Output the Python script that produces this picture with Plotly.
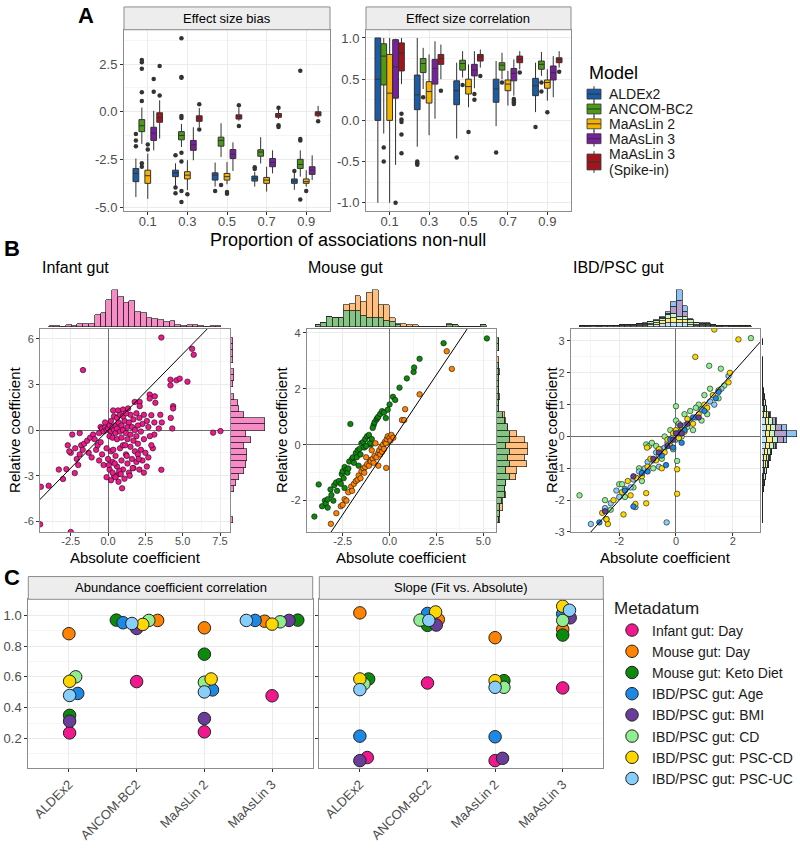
import numpy as np
import plotly.graph_objects as go

W, H = 800, 850
FONT = "Liberation Sans"
GRID = "#EBEBEB"
MINOR = "#F5F5F5"
BORDER = "#8C8C8C"
TICKC = "#4D4D4D"


def px(x):
    return x / W


def py(y):
    return 1 - y / H


# ---------------- panel A: boxplot summaries (model x proportion)
props = ["0.1", "0.3", "0.5", "0.7", "0.9"]
models = ["ALDEx2", "ANCOM-BC2", "MaAsLin 2", "MaAsLin 3", "MaAsLin 3 (Spike-in)"]
model_colors = ["#1C5BA6", "#4C9A16", "#F5B300", "#7A1FA0", "#A0161C"]

bias_q1 = [[-3.66, -3.40, -3.58, -3.63, -3.75],
           [-1.04, -1.47, -1.80, -2.33, -2.97],
           [-3.75, -3.52, -3.58, -3.75, -3.75],
           [-1.50, -2.02, -2.45, -2.88, -3.28],
           [-0.55, -0.50, -0.38, -0.29, -0.21]]
bias_med = [[-3.23, -3.20, -3.32, -3.49, -3.63],
            [-0.73, -1.24, -1.50, -2.11, -2.76],
            [-3.35, -3.32, -3.40, -3.58, -3.66],
            [-1.12, -1.73, -2.22, -2.66, -3.06],
            [-0.30, -0.33, -0.26, -0.21, -0.09]]
bias_q3 = [[-2.97, -3.06, -3.20, -3.37, -3.52],
           [-0.41, -1.04, -1.33, -1.99, -2.49],
           [-3.06, -3.14, -3.23, -3.44, -3.52],
           [-0.81, -1.50, -1.98, -2.45, -2.88],
           [-0.05, -0.21, -0.16, -0.09, 0.00]]
bias_lo = [[-4.47, -3.90, -3.92, -3.92, -4.09],
           [-1.68, -1.85, -2.37, -2.71, -3.40],
           [-4.56, -4.10, -3.80, -4.18, -3.92],
           [-2.02, -2.54, -3.10, -3.23, -3.58],
           [-1.40, -0.80, -0.47, -0.38, -0.29]]
bias_hi = [[-2.45, -2.70, -2.66, -3.15, -3.20],
           [0.22, -0.64, -0.60, -1.33, -2.02],
           [-2.19, -2.54, -2.63, -2.88, -3.06],
           [0.05, -0.81, -1.60, -2.02, -2.28],
           [0.60, 0.20, 0.22, 0.15, 0.31]]
bias_out = [[[-1.17, -1.5, -1.8], [-2.28, -3.97, -4.27], [-4.15], [-2.9, -3.0], [-3.1]],
            [[0.57, 1.03, 2.26, 2.6, 2.72, -2.7, -2.88],
             [3.85, 1.82, 1.78, -0.22, -0.33, -2.14, -2.6, -4.15, -4.73],
             [-3.84], [], [2.15, -1.43, -1.5, -4.6]],
            [[-1.71, -1.97], [-4.32], [-4.2, -4.3], [], [-4.15]],
            [[1.72, 1.05], [], [], [], []],
            [[0.85, 2.4], [0.4, -0.93], [0.34, -0.75], [0.21, -0.7, -0.8], [-0.5]]]

corr_q1 = [[0.00, 0.13, 0.19, 0.22, 0.30],
           [0.43, 0.58, 0.61, 0.61, 0.62],
           [0.00, 0.21, 0.32, 0.36, 0.39],
           [0.27, 0.44, 0.54, 0.48, 0.49],
           [0.60, 0.68, 0.72, 0.70, 0.70]]
corr_med = [[0.50, 0.31, 0.36, 0.38, 0.42],
            [0.78, 0.69, 0.69, 0.67, 0.68],
            [0.33, 0.35, 0.41, 0.44, 0.46],
            [0.65, 0.63, 0.61, 0.57, 0.58],
            [0.82, 0.75, 0.77, 0.74, 0.74]]
corr_q3 = [[1.00, 0.55, 0.48, 0.50, 0.51],
           [0.93, 0.75, 0.73, 0.70, 0.72],
           [0.80, 0.47, 0.50, 0.49, 0.49],
           [0.98, 0.74, 0.68, 0.63, 0.66],
           [0.94, 0.80, 0.80, 0.78, 0.76]]
corr_lo = [[-1.00, -0.32, -0.22, -0.07, 0.10],
           [-0.16, 0.38, 0.52, 0.50, 0.54],
           [-1.00, -0.18, 0.16, 0.18, 0.24],
           [-0.54, 0.02, 0.39, 0.30, 0.28],
           [0.44, 0.50, 0.64, 0.62, 0.64]]
corr_hi = [[1.00, 1.00, 0.70, 0.72, 0.70],
           [1.00, 0.88, 0.84, 0.82, 0.83],
           [1.00, 0.80, 0.68, 0.60, 0.62],
           [0.99, 0.96, 0.84, 0.74, 0.78],
           [1.00, 0.92, 0.86, 0.84, 0.84]]
corr_out = [[[], [-0.5, -0.52, -0.54], [-0.45], [-0.39], [-0.08]],
            [[-0.33, -0.5], [0.28], [0.43], [0.46], [0.46, 0.35]],
            [[], [], [-0.14], [], [0.10]],
            [[-1.0], [], [0.32, 0.25], [0.26, 0.24, 0.22, 0.20], []],
            [[0.08, 0.01, -0.02, -0.17, -0.4], [0.36], [0.54], [0.58], [0.59]]]

# ---------------- panel B: scatter points
inf_x = [3.57, 5.63, 5.74, -1.68, 4.18, 4.18, 4.58, 4.8, 5.32, 2.79, 3.13, 2.79, 3.17, 2.12, 1.79, 2.12,
         4.36, 4.36, 0.34, 0.67, 1.0, 1.34, 1.5, 1.9, 2.4, 2.9, 3.5, 4.2, 3.6, 4.3, 7.04, 7.53, 2.6, 3.1,
         2.3, 2.7, 3.4, 3.1, 2.8,
         -1.8, -1.6, -1.4, -1.2, -1.0, -0.9, -0.6, -0.5, -0.4, -0.3, -0.2, -0.1, 0.0, 0.1, 0.2, 0.3, 0.4,
         0.5, 0.5, 0.6, 0.7, 0.8, 0.9, 1.0, 1.1, 1.2, 1.3, 1.4, 1.5, 1.6, 1.7, 1.8, 1.9, 2.0, 2.1, 2.2,
         0.2, 0.4, 0.6, 0.8, 1.0, 1.2, -0.2, 0.1, 0.3, 0.6, 0.9, 1.3, 1.7, 2.4, 2.0,
         -2.2, -2.5, -2.1, -2.7, -2.6, -2.4, -1.9, -1.3, -1.1, -0.8, -0.6, -0.4, -0.3, -0.1, 0.0, 0.1,
         0.2, 0.3, 0.4, 0.5, 0.6, 0.7, 0.8, 0.9, 1.0, 1.1, 1.2, 1.3, 1.4, 1.5, 1.6, 1.7, 1.8, 1.9, 2.0,
         2.1, 2.2, 2.3, 2.5, 2.6, 2.7, 2.4, -0.1, 0.2, 0.5, 0.3, 0.7, 0.94, 3.57, 3.0, 2.9, -0.7, -0.5,
         1.0, 0.45, 0.75, 1.15, 1.45, 0.05, 0.35, 0.85, 1.25, 1.65, 2.05,
         -4.5, -3.98, -2.79, -3.02, -2.23, -1.9, -2.0, -1.7, -3.3, -4.55, -2.5]
inf_y = [6.08, 5.34, 4.95, 3.94, 3.31, 2.94, 3.27, 3.38, 3.18, 2.33, 2.22, 2.07, 1.79, 1.85, 1.85, 1.57,
         1.57, 1.42, 1.29, 1.29, 1.35, 1.42, 1.0, 1.1, 1.0, 0.98, 1.0, 0.8, 0.5, 0.1, -0.17, -0.07, 0.6, 0.5,
         0.4, 0.2, 0.1, -0.3, -0.4,
         -1.0, -0.9, -0.7, -0.5, -0.3, -0.6, -0.2, 0.2, 0.1, -0.1, 0.2, 0.0, 0.1, 0.3, -0.1, 0.2, 0.0,
         0.3, -0.2, 0.1, 0.5, -0.1, 0.3, 0.0, 0.6, -0.2, 0.2, 0.5, -0.3, 0.2, 0.7, 0.0, -0.4, 0.3, 0.8, -0.1,
         0.6, 0.9, 0.8, 1.0, 0.9, 1.1, 0.5, -0.4, -0.5, -0.6, -0.5, -0.6, -0.7, -0.6, -0.9,
         -1.2, -1.5, -1.9, -1.0, -1.4, -0.3, -0.2, -1.5, -1.8, -1.3, -2.0, -1.6, -2.3, -1.2, -1.9, -2.6,
         -1.4, -2.1, -3.0, -1.7, -2.4, -2.9, -1.2, -2.0, -2.6, -3.2, -1.6, -2.2, -2.8, -1.1, -1.9, -2.5,
         -1.4, -2.1, -1.6, -2.6, -1.3, -2.0, -1.5, -2.4, -1.8, -2.8, -3.1, -3.3, -3.1, -2.8, -3.4, -3.83,
         -2.61, -1.2, -1.0, -1.0, -0.8, -1.0,
         -2.2, -2.7, -1.0, -3.0, -2.3, -1.3, -2.9, -1.7, -2.5, -1.9,
         -3.73, -3.66, -2.57, -3.22, -2.83, -1.6, -2.3, -1.3, -2.6, -6.2, -6.7]

keto_x = [-4.01, -3.78, -3.6, -3.45, -3.4, -3.3, -3.15, -3.1, -3.3, -2.95, -2.85, -2.8, -2.7, -2.55, -2.5,
          -2.45, -2.4, -2.3, -2.25, -2.2, -2.15, -2.09, -2.0, -1.95, -1.9, -1.8, -1.75, -1.7, -1.6, -1.55,
          -1.5, -1.4, -1.35, -1.3, -1.2, -1.1, -1.0, -0.95, -0.85, -0.8, -0.7, -0.65, -0.6, -0.5, -0.4,
          -0.3, -0.2, 0.0, 0.18, 0.3, 0.53, 0.92, 1.28, 1.31, 1.6, 2.88, 5.19, -0.9, -1.05, -1.25, -2.6,
          -3.0, -2.4, -1.65, -0.1]
keto_y = [-2.57, -1.42, -2.2, -2.0, -2.1, -1.95, -1.6, -1.8, -2.25, -1.45, -1.35, -1.65, -1.3, -1.05, -0.95,
          -1.2, -0.8, -0.9, -1.0, -0.85, -0.6, 0.74, -0.5, -0.45, -0.65, -0.3, -0.45, -0.2, -0.15, -0.35,
          0.05, 0.1, -0.1, 0.2, 0.3, 0.35, 0.0, 0.2, 0.7, 0.8, 0.9, 0.95, 1.0, 1.1, 1.2,
          1.15, 0.95, 1.44, 1.71, 1.6, 2.04, 2.37, 2.6, 2.76, 3.07, 3.63, 3.8, 0.6, 0.05, -0.05, -1.4,
          -2.0, -1.55, -0.75, 1.25]
day_x = [-3.13, -2.84, -2.6, -2.5, -2.4, -2.3, -2.2, -2.05, -2.0, -1.9, -1.8, -1.7, -1.65, -1.55, -1.5,
         -1.4, -1.35, -1.3, -1.2, -1.1, -1.05, -1.0, -0.9, -0.85, -0.8, -0.7, -0.6, -0.55, -0.5, -0.45,
         -0.4, -0.35, -0.3, -0.25, -0.2, -0.15, -0.1, 0.0, 0.05, 0.1, 0.2, -0.18, 0.66, 0.78, 0.83, 1.6,
         3.05, 3.32, -0.6, -0.95, -0.75, -1.25]
day_y = [-2.83, -2.45, -2.2, -2.15, -1.95, -2.0, -1.7, -1.5, -1.65, -1.4, -1.3, -1.25, -1.1, -1.2, -0.95,
         -0.85, -1.0, -0.8, -0.7, -0.75, -0.55, -0.6, -0.5, -0.65, -0.4, -0.45, -0.3, -0.2, -0.35, -0.1,
         -0.25, 0.0, -0.15, 0.1, 0.05, 0.2, 0.3, 0.25, 0.15, 0.35, 0.25, -0.83, 0.88, 0.88, 1.27, 1.8,
         3.34, 2.71, -0.75, -0.2, 0.05, -0.45]

ibd_cd_x = [-3.4, -2.45, -2.5, -2.3, -2.0, -1.9, -1.8, -1.5, -1.3, -1.2, -1.05, -0.95, -0.85, -0.8, -0.7,
            -0.5, -0.4, -0.2, 0.0, 0.0, 0.1, 0.2, 0.3, 0.4, 0.5, 0.6, 0.8, 0.9, 1.0, 1.1, 1.2, 1.17, 1.58,
            2.64, 0.04, 1.5, 1.7, -0.1, 0.7]
ibd_cd_y = [-1.85, -2.6, -2.0, -2.3, -1.5, -1.5, -1.9, -1.6, -1.0, -1.4, -0.25, -0.3, -0.2, -1.0, -0.3,
            -0.7, 0.0, 0.2, 0.5, 0.95, 0.4, 0.0, 0.7, 0.3, 0.8, 0.2, 1.0, 0.5, 1.3, 0.7, 1.5, 2.22, 2.13,
            3.09, -0.77, 1.2, 1.6, -0.4, 0.9]
ibd_pscd_x = [-2.4, -2.45, -2.6, -2.2, -1.9, -1.7, -1.6, -1.4, -1.2, -1.0, -0.9, -0.7, -0.6, -0.4, -0.3,
              -0.2, -0.1, 0.0, 0.1, 0.2, 0.3, 0.4, 0.6, 0.8, 1.0, 1.1, 1.3, 1.5, 1.85, 1.9, 2.2, 1.35,
              0.68, 0.04, 0.04, -1.43, -1.05, -1.05, -1.02, -0.5, -1.85]
ibd_pscd_y = [-2.75, -2.6, -2.4, -2.0, -1.75, -1.4, -1.85, -1.3, -1.25, -0.95, -0.7, -0.75, -0.4, -0.5,
              -0.1, -0.3, 0.1, 0.2, -0.05, 0.3, 0.15, 0.55, 0.4, 0.7, 1.0, 0.9, 1.3, 1.45, 1.7, 2.0, 3.05,
              3.36, 2.5, -1.8, -1.03, -2.12, -2.1, -1.78, -0.35, -1.0, -2.45]
ibd_pscuc_x = [-3.0, -2.5, -2.3, -2.0, -1.8, -1.6, -1.5, -1.3, -1.1, -1.0, -0.8, -0.7, -0.6, -0.5, -0.4,
               -0.3, -0.2, -0.1, 0.0, 0.1, 0.2, 0.3, 0.5, 0.7, 0.9, 1.2, 1.35, 1.6, 1.85, -0.33, -1.43,
               -0.6, -2.1]
ibd_pscuc_y = [-2.75, -2.25, -2.1, -1.9, -1.65, -1.6, -1.35, -1.1, -1.0, -0.8, -0.75, -0.5, -0.6, -0.4,
               -0.35, -0.2, -0.15, 0.0, -0.1, 0.15, 0.1, 0.35, 0.45, 0.6, 0.85, 1.1, 1.0, 1.5, 1.9, -2.7,
               -2.22, -0.95, -1.7]
ibd_age_x = [-2.7, -1.5, -0.35, -1.0, -0.5, -0.2, 0.1, 0.3, 0.6, 1.0, 1.4, 1.5, -1.8, 0.2, -0.1, -1.2]
ibd_age_y = [-2.7, -2.2, -0.9, -1.1, -0.6, -0.1, 0.1, 0.2, 0.6, 0.8, 1.2, 1.4, -1.7, -0.2, -0.35, -1.15]
ibd_bmi_x = [-2.5, -1.5, -0.6, -0.3, -0.1, 0.0, 0.2, 0.4, 0.8, -0.8, 0.15]
ibd_bmi_y = [-2.35, -1.25, -0.5, -0.3, -0.1, 0.1, 0.1, 0.4, 0.6, -0.7, 0.35]

identity = [-10, 10]

# marginal histogram counts (30 bins each)
inf_top_start, inf_top_w = -3.98, 0.386
inf_top = [1, 1, 0, 2, 1, 3, 3, 3, 12, 14, 27, 37, 30, 24, 26, 15, 14, 9, 8, 7, 5, 6, 2, 1, 2, 2, 1, 0, 1, 1]
inf_rt_start, inf_rt_w = -6.1, 0.405
inf_rt = [1, 0, 0, 0, 0, 2, 3, 5, 8, 9, 10, 10, 8, 12, 9, 21, 21, 8, 5, 4, 2, 0, 1, 2, 2, 0, 1, 1, 1, 1]

mou_top_start, mou_top_w = -3.96, 0.305
mou_top_keto = [1, 3, 8, 7, 7, 13, 13, 13, 9, 7, 7, 7, 5, 4, 1, 0, 0, 0, 0, 0, 0, 0, 0, 1, 1, 0, 0, 0, 0, 1]
mou_top_day = [0, 0, 0, 0, 0, 5, 6, 12, 11, 21, 23, 11, 13, 3, 1, 2, 1, 1, 0, 0, 0, 0, 0, 1, 0, 0, 0, 0, 0, 0]
mou_rt_start, mou_rt_w = -2.79, 0.22
mou_rt_keto = [1, 2, 2, 3, 5, 5, 6, 8, 6, 8, 7, 8, 6, 8, 8, 7, 5, 4, 1, 1, 1, 1, 1, 1, 1, 1, 0, 0, 1, 1]
mou_rt_day = [1, 0, 2, 1, 1, 0, 0, 4, 7, 11, 11, 12, 14, 10, 5, 0, 1, 1, 0, 0, 1, 0, 0, 0, 1, 0, 1, 0, 0, 0]

ibd_top_start, ibd_top_w = -3.41, 0.202
ibd_top_age = [0, 0, 0, 0, 0, 0, 0, 0, 0, 0, 0, 1, 1, 2, 3, 5, 15, 35, 20, 3, 1, 1, 1, 0, 0, 0, 0, 0, 0, 0]
ibd_top_bmi = [0, 0, 0, 0, 0, 0, 0, 0, 0, 0, 1, 1, 1, 2, 3, 5, 20, 47, 15, 3, 1, 0, 0, 0, 0, 0, 0, 0, 0, 0]
ibd_top_cd = [1, 0, 0, 1, 1, 1, 1, 2, 2, 2, 3, 3, 5, 6, 8, 12, 14, 11, 10, 7, 4, 3, 3, 2, 1, 1, 0, 1, 0, 1]
ibd_top_pscd = [0, 1, 0, 1, 0, 1, 1, 2, 2, 2, 2, 3, 4, 5, 8, 12, 14, 10, 10, 6, 3, 3, 3, 2, 1, 0, 1, 0, 1, 0]
ibd_top_pscuc = [0, 0, 1, 0, 1, 1, 1, 1, 1, 2, 2, 2, 4, 5, 8, 11, 12, 10, 10, 6, 3, 3, 3, 1, 0, 1, 0, 0, 0, 0]
ibd_rt_start, ibd_rt_w = -2.71, 0.193
ibd_rt_age = [0, 0, 0, 0, 0, 0, 0, 0, 1, 1, 2, 2, 4, 10, 33, 15, 5, 2, 1, 0, 0, 0, 0, 0, 0, 0, 0, 0, 0, 0]
ibd_rt_bmi = [0, 0, 0, 0, 0, 0, 0, 1, 1, 2, 2, 3, 6, 17, 37, 20, 7, 3, 1, 1, 0, 0, 0, 0, 0, 0, 0, 0, 0, 0]
ibd_rt_cd = [1, 1, 1, 1, 2, 2, 3, 4, 5, 7, 8, 9, 13, 17, 14, 14, 12, 8, 5, 4, 3, 2, 1, 1, 1, 1, 1, 0, 1, 1]
ibd_rt_pscd = [1, 0, 1, 1, 1, 2, 3, 4, 5, 6, 8, 9, 12, 17, 13, 14, 12, 7, 5, 4, 3, 2, 2, 1, 1, 0, 1, 1, 0, 1]
ibd_rt_pscuc = [0, 1, 1, 1, 1, 1, 2, 3, 5, 6, 7, 9, 12, 16, 13, 14, 11, 7, 5, 3, 2, 1, 1, 1, 1, 1, 0, 0, 0, 0]

# ---------------- panel C
c_models = ["ALDEx2", "ANCOM-BC2", "MaAsLin 2", "MaAsLin 3"]
meta = ["Infant gut: Day", "Mouse gut: Day", "Mouse gut: Keto Diet", "IBD/PSC gut: Age",
        "IBD/PSC gut: BMI", "IBD/PSC gut: CD", "IBD/PSC gut: PSC-CD", "IBD/PSC gut: PSC-UC"]
meta_colors = ["#F0188C", "#FF8200", "#0B8A0B", "#1E88E5", "#6A3D9A", "#90EE90", "#FFD700", "#87CEFA"]

corr_vals = [[0.236, 0.569, 0.243, 0.477],
             [0.880, 0.966, 0.918, 0.961],
             [0.350, 0.968, 0.747, 0.968],
             [0.492, 0.951, 0.515, 0.966],
             [0.312, 0.914, 0.329, 0.966],
             [0.600, 0.966, 0.565, 0.957],
             [0.571, 0.940, 0.586, 0.942],
             [0.479, 0.946, 0.502, 0.966]]
corr_dodge = [[0.01, 0.0, 0.0, 0.0],
              [0.0, 0.31, 0.0, -0.11],
              [0.01, -0.30, 0.0, 0.38],
              [0.13, -0.20, 0.12, -0.25],
              [0.01, 0.0, 0.0, 0.25],
              [0.10, 0.18, 0.0, 0.12],
              [0.01, 0.09, 0.10, 0.0],
              [0.01, -0.07, 0.0, -0.38]]
slope_vals = [[0.076, 0.560, 0.056, 0.528],
              [1.015, 0.972, 0.854, 0.908],
              [0.586, 0.934, 0.575, 0.871],
              [0.215, 1.011, 0.211, 1.009],
              [0.056, 0.936, 0.071, 0.983],
              [0.554, 0.968, 0.532, 0.966],
              [0.586, 1.021, 0.575, 1.058],
              [0.517, 0.966, 0.532, 1.032]]
slope_dodge = [[0.11, 0.0, 0.0, 0.0],
               [0.0, 0.16, 0.0, 0.0],
               [0.13, 0.0, 0.13, 0.0],
               [0.0, 0.0, 0.0, 0.0],
               [0.0, 0.13, 0.11, 0.11],
               [0.06, -0.11, 0.13, 0.0],
               [0.0, 0.12, 0.0, 0.0],
               [0.0, 0.02, 0.0, 0.10]]


def rgba(hexc, a):
    h = hexc.lstrip("#")
    return "rgba(%d,%d,%d,%.2f)" % (int(h[0:2], 16), int(h[2:4], 16), int(h[4:6], 16), a)


def centers(start, w, n):
    return start + w * (np.arange(n) + 0.5)


fig = go.Figure()

# ---- A
dodge = [-0.3, -0.15, 0.0, 0.15, 0.3]
for m in range(5):
    pos = [i + dodge[m] for i in range(5)]
    fig.add_trace(go.Box(x=pos, q1=bias_q1[m], median=bias_med[m], q3=bias_q3[m],
                         lowerfence=bias_lo[m], upperfence=bias_hi[m], orientation="v",
                         width=0.145, whiskerwidth=0, boxpoints=False, fillcolor=model_colors[m],
                         line=dict(color="#333333", width=1), name=models[m], showlegend=False,
                         xaxis="x", yaxis="y", hoverinfo="skip"))
    fig.add_trace(go.Box(x=pos, q1=corr_q1[m], median=corr_med[m], q3=corr_q3[m],
                         lowerfence=corr_lo[m], upperfence=corr_hi[m], orientation="v",
                         width=0.145, whiskerwidth=0, boxpoints=False, fillcolor=model_colors[m],
                         line=dict(color="#333333", width=1), name=models[m], showlegend=False,
                         xaxis="x2", yaxis="y2", hoverinfo="skip"))
    for outs, ax, ay in [(bias_out, "x", "y"), (corr_out, "x2", "y2")]:
        ox, oy = [], []
        for i in range(5):
            for v in outs[m][i]:
                ox.append(pos[i])
                oy.append(v)
        fig.add_trace(go.Scatter(x=ox, y=oy, mode="markers", marker=dict(color="#333333", size=4.5),
                                 showlegend=False, xaxis=ax, yaxis=ay, hoverinfo="skip"))

# ---- B
def pts(x, y, col, ax, ay):
    fig.add_trace(go.Scatter(x=x, y=y, mode="markers", showlegend=False, xaxis=ax, yaxis=ay,
                             marker=dict(color=col, size=5.5, line=dict(color="#111111", width=0.6)),
                             hoverinfo="skip"))


def hist(start, w, counts, col, ax, ay, horiz=False):
    c = centers(start, w, len(counts))
    mk = dict(color=rgba(col, 0.5), line=dict(color="#222222", width=0.7))
    if horiz:
        fig.add_trace(go.Bar(y=c, x=counts, width=w, orientation="h", marker=mk, showlegend=False,
                             xaxis=ax, yaxis=ay, hoverinfo="skip"))
    else:
        fig.add_trace(go.Bar(x=c, y=counts, width=w, marker=mk, showlegend=False,
                             xaxis=ax, yaxis=ay, hoverinfo="skip"))


PINK, ORANGE, GREEN, BLUE, PURPLE, LGREEN, YELLOW, LBLUE = meta_colors

pts(inf_x, inf_y, PINK, "x3", "y3")
fig.add_trace(go.Scatter(x=identity, y=identity, mode="lines", line=dict(color="black", width=1),
                         showlegend=False, xaxis="x3", yaxis="y3", hoverinfo="skip"))
hist(inf_top_start, inf_top_w, inf_top, PINK, "x4", "y4")
hist(inf_rt_start, inf_rt_w, inf_rt, PINK, "x5", "y5", horiz=True)

pts(keto_x, keto_y, GREEN, "x6", "y6")
pts(day_x, day_y, ORANGE, "x6", "y6")
fig.add_trace(go.Scatter(x=identity, y=identity, mode="lines", line=dict(color="black", width=1),
                         showlegend=False, xaxis="x6", yaxis="y6", hoverinfo="skip"))
hist(mou_top_start, mou_top_w, mou_top_keto, GREEN, "x7", "y7")
hist(mou_top_start, mou_top_w, mou_top_day, ORANGE, "x7", "y7")
hist(mou_rt_start, mou_rt_w, mou_rt_keto, GREEN, "x8", "y8", horiz=True)
hist(mou_rt_start, mou_rt_w, mou_rt_day, ORANGE, "x8", "y8", horiz=True)

pts(ibd_cd_x, ibd_cd_y, LGREEN, "x9", "y9")
pts(ibd_pscuc_x, ibd_pscuc_y, LBLUE, "x9", "y9")
pts(ibd_pscd_x, ibd_pscd_y, YELLOW, "x9", "y9")
pts(ibd_age_x, ibd_age_y, BLUE, "x9", "y9")
pts(ibd_bmi_x, ibd_bmi_y, PURPLE, "x9", "y9")
fig.add_trace(go.Scatter(x=identity, y=identity, mode="lines", line=dict(color="black", width=1),
                         showlegend=False, xaxis="x9", yaxis="y9", hoverinfo="skip"))
for cnt, col in [(ibd_top_pscuc, LBLUE), (ibd_top_pscd, YELLOW), (ibd_top_cd, LGREEN),
                 (ibd_top_bmi, PURPLE), (ibd_top_age, BLUE)]:
    hist(ibd_top_start, ibd_top_w, cnt, col, "x10", "y10")
for cnt, col in [(ibd_rt_pscuc, LBLUE), (ibd_rt_pscd, YELLOW), (ibd_rt_cd, LGREEN),
                 (ibd_rt_bmi, PURPLE), (ibd_rt_age, BLUE)]:
    hist(ibd_rt_start, ibd_rt_w, cnt, col, "x11", "y11", horiz=True)

# ---- C
for g in range(8):
    xs = [k + corr_dodge[g][k] for k in range(4)]
    fig.add_trace(go.Scatter(x=xs, y=corr_vals[g], mode="markers", name=meta[g], legend="legend2",
                             marker=dict(color=meta_colors[g], size=12.5, line=dict(color="#222222", width=1)),
                             xaxis="x12", yaxis="y12", hoverinfo="skip"))
    xs = [k + slope_dodge[g][k] for k in range(4)]
    fig.add_trace(go.Scatter(x=xs, y=slope_vals[g], mode="markers", name=meta[g], showlegend=False,
                             marker=dict(color=meta_colors[g], size=12.5, line=dict(color="#222222", width=1)),
                             xaxis="x13", yaxis="y13", hoverinfo="skip"))


# ---- axes
def ax(dom, rng, anchor, tickvals=None, ticktext=None, size=14, minor=None, zero=False, angle=None,
       standoff=0):
    d = dict(domain=dom, range=rng, anchor=anchor, showgrid=True, gridcolor=GRID, gridwidth=1,
             zeroline=zero, zerolinecolor="#6E6E6E", zerolinewidth=1,
             showline=True, mirror=True, linecolor=BORDER, linewidth=1,
             ticks="outside", ticklen=3, tickcolor="#333333", ticklabelstandoff=standoff,
             tickfont=dict(family=FONT, size=size, color=TICKC))
    if tickvals is not None:
        d["tickvals"] = tickvals
        d["ticktext"] = ticktext
    if minor is not None:
        d["minor"] = dict(dtick=minor, showgrid=True, gridcolor=MINOR, ticklen=0)
    if angle is not None:
        d["tickangle"] = angle
    return d


def hidden(dom, rng, anchor):
    return dict(domain=dom, range=rng, anchor=anchor, visible=False, fixedrange=True)


A_y = [py(211), py(28)]
lay = {}
lay["xaxis"] = ax([px(124), px(330)], [-0.6, 4.6], "y", list(range(5)), props, size=13, standoff=-5)
lay["yaxis"] = ax(A_y, [-5.2, 4.3], "x", [-5, -2.5, 0, 2.5], ["-5.0", "-2.5", "0.0", "2.5"], size=13,
                  minor=1.25)
lay["xaxis2"] = ax([px(366), px(571)], [-0.6, 4.6], "y2", list(range(5)), props, size=13, standoff=-5)
lay["yaxis2"] = ax(A_y, [-1.1, 1.1], "x2", [-1, -0.5, 0, 0.5, 1], ["-1.0", "-0.5", "0.0", "0.5", "1.0"],
                   size=13, minor=0.25)

B_y = [py(535), py(330)]
T_y = [py(328), py(290)]
inf_xr, inf_yr = [-4.56, 8.17], [-6.7, 6.65]
mou_xr, mou_yr = [-4.42, 5.66], [-3.12, 4.14]
ibd_xr, ibd_yr = [-3.71, 2.96], [-3.0, 3.38]

lay["xaxis3"] = ax([px(40), px(230)], inf_xr, "y3", [-2.5, 0, 2.5, 5, 7.5],
                   ["-2.5", "0.0", "2.5", "5.0", "7.5"], size=11, minor=1.25, zero=True, standoff=-4)
lay["yaxis3"] = ax(B_y, inf_yr, "x3", [-6, -3, 0, 3, 6], ["-6", "-3", "0", "3", "6"], size=11,
                   minor=1.5, zero=True)
lay["xaxis4"] = hidden([px(40), px(230)], inf_xr, "y4")
lay["yaxis4"] = hidden(T_y, [0, 38], "x4")
lay["xaxis5"] = hidden([px(231), px(267)], [0, 22], "y5")
lay["yaxis5"] = hidden(B_y, inf_yr, "x5")

lay["xaxis6"] = ax([px(306.7), px(495.7)], mou_xr, "y6", [-2.5, 0, 2.5, 5],
                   ["-2.5", "0.0", "2.5", "5.0"], size=11, minor=1.25, zero=True, standoff=-4)
lay["yaxis6"] = ax(B_y, mou_yr, "x6", [-2, 0, 2, 4], ["-2", "0", "2", "4"], size=11, minor=1, zero=True)
lay["xaxis7"] = hidden([px(306.7), px(495.7)], mou_xr, "y7")
lay["yaxis7"] = hidden(T_y, [0, 31], "x7")
lay["xaxis8"] = hidden([px(497), px(530)], [0, 21], "y8")
lay["yaxis8"] = hidden(B_y, mou_yr, "x8")

lay["xaxis9"] = ax([px(570.7), px(760)], ibd_xr, "y9", [-2, 0, 2], ["-2", "0", "2"], size=11,
                   minor=1, zero=True, standoff=-4)
lay["yaxis9"] = ax(B_y, ibd_yr, "x9", [-3, -2, -1, 0, 1, 2, 3], ["-3", "-2", "-1", "0", "1", "2", "3"],
                   size=11, minor=0.5, zero=True)
lay["xaxis10"] = hidden([px(570.7), px(760)], ibd_xr, "y10")
lay["yaxis10"] = hidden(T_y, [0, 116], "x10")
lay["xaxis11"] = hidden([px(762), px(798)], [0, 112], "y11")
lay["yaxis11"] = hidden(B_y, ibd_yr, "x11")

C_y = [py(773), py(603)]
c_ticks = [0.2, 0.4, 0.6, 0.8, 1.0]
c_text = ["0.2", "0.4", "0.6", "0.8", "1.0"]
lay["xaxis12"] = ax([px(28.3), px(312.7)], [-0.6, 3.6], "y12", list(range(4)), c_models, size=13, angle=-45)
lay["yaxis12"] = ax(C_y, [0.01, 1.103], "x12", c_ticks, c_text, size=13, minor=0.1)
lay["xaxis13"] = ax([px(319.3), px(603.3)], [-0.6, 3.6], "y13", list(range(4)), c_models, size=13, angle=-45)
lay["yaxis13"] = ax(C_y, [0.01, 1.103], "x13", c_ticks, [""] * 5, size=13, minor=0.1)

# ---- strips, labels
shapes = []
annotations = []


def note(x, y, txt, size, **kw):
    d = dict(x=px(x), y=py(y), text=txt, showarrow=False, xref="paper", yref="paper",
             xanchor="center", yanchor="middle", font=dict(family=FONT, size=size, color="black"))
    d.update(kw)
    annotations.append(d)


def prect(x0, x1, y0, y1, fill, lc, lw=1):
    shapes.append(dict(type="rect", xref="paper", yref="paper", x0=px(x0), x1=px(x1), y0=py(y1), y1=py(y0),
                       fillcolor=fill, line=dict(color=lc, width=lw)))


def pline(x0, x1, y0, y1, lc, lw=1):
    shapes.append(dict(type="line", xref="paper", yref="paper", x0=px(x0), x1=px(x1), y0=py(y0), y1=py(y1),
                       line=dict(color=lc, width=lw)))


for x0, x1, y0, y1, txt in [(124, 330, 5, 28, "Effect size bias"),
                            (366, 571, 5, 28, "Effect size correlation"),
                            (28.3, 312.7, 580, 603, "Abundance coefficient correlation"),
                            (319.3, 603.3, 580, 603, "Slope (Fit vs. Absolute)")]:
    prect(x0, x1, y0, y1, "#EDEDED", BORDER)
    note((x0 + x1) / 2, (y0 + y1) / 2, txt, 13)

note(86, 14, "<b>A</b>", 22)
note(12, 249, "<b>B</b>", 22)
note(12, 581, "<b>C</b>", 22)
note(348, 240, "Proportion of associations non-null", 18)

for txt, x in [("Infant gut", 40), ("Mouse gut", 306), ("IBD/PSC gut", 571)]:
    note(x, 268, txt, 16, xanchor="left")
for xc in [135, 401, 665]:
    note(xc, 561, "Absolute coefficient", 15)
for xc in [15, 282, 552]:
    note(xc, 432, "Relative coefficient", 15, textangle=-90)

# Model legend (box keys)
note(587, 72, "Model", 18, xanchor="left")
key_rows = [93, 108, 123, 138, 161.5]
key_half = [5, 5, 5, 5, 8]
for m in range(5):
    c, h = key_rows[m], key_half[m]
    pline(594, 594, c - h - 3, c + h + 3, "#333333")
    prect(587, 601, c - h, c + h, model_colors[m], "#333333", 0.8)
    pline(587, 601, c, c, "#333333")
for m in range(4):
    note(607, key_rows[m], models[m], 14, xanchor="left", font=dict(family=FONT, size=14, color="#1A1A1A"))
note(607, 153.5, "MaAsLin 3", 14, xanchor="left", font=dict(family=FONT, size=14, color="#1A1A1A"))
note(607, 169.5, "(Spike-in)", 14, xanchor="left", font=dict(family=FONT, size=14, color="#1A1A1A"))

fig.update_layout(
    width=W, height=H, margin=dict(l=0, r=0, t=0, b=0),
    paper_bgcolor="white", plot_bgcolor="white",
    font=dict(family=FONT, size=14, color="black"),
    barmode="stack", bargap=0, boxmode="overlay",
    shapes=shapes, annotations=annotations,
    legend2=dict(x=px(612), y=py(596), xanchor="left", yanchor="top", tracegroupgap=0,
                 title=dict(text="Metadatum", font=dict(family=FONT, size=17)),
                 font=dict(family=FONT, size=14, color="#1A1A1A"), bgcolor="rgba(0,0,0,0)"),
    **lay
)

fig.write_html("out.html", config={"displayModeBar": False},
               post_script="document.body.style.margin='0px';")
